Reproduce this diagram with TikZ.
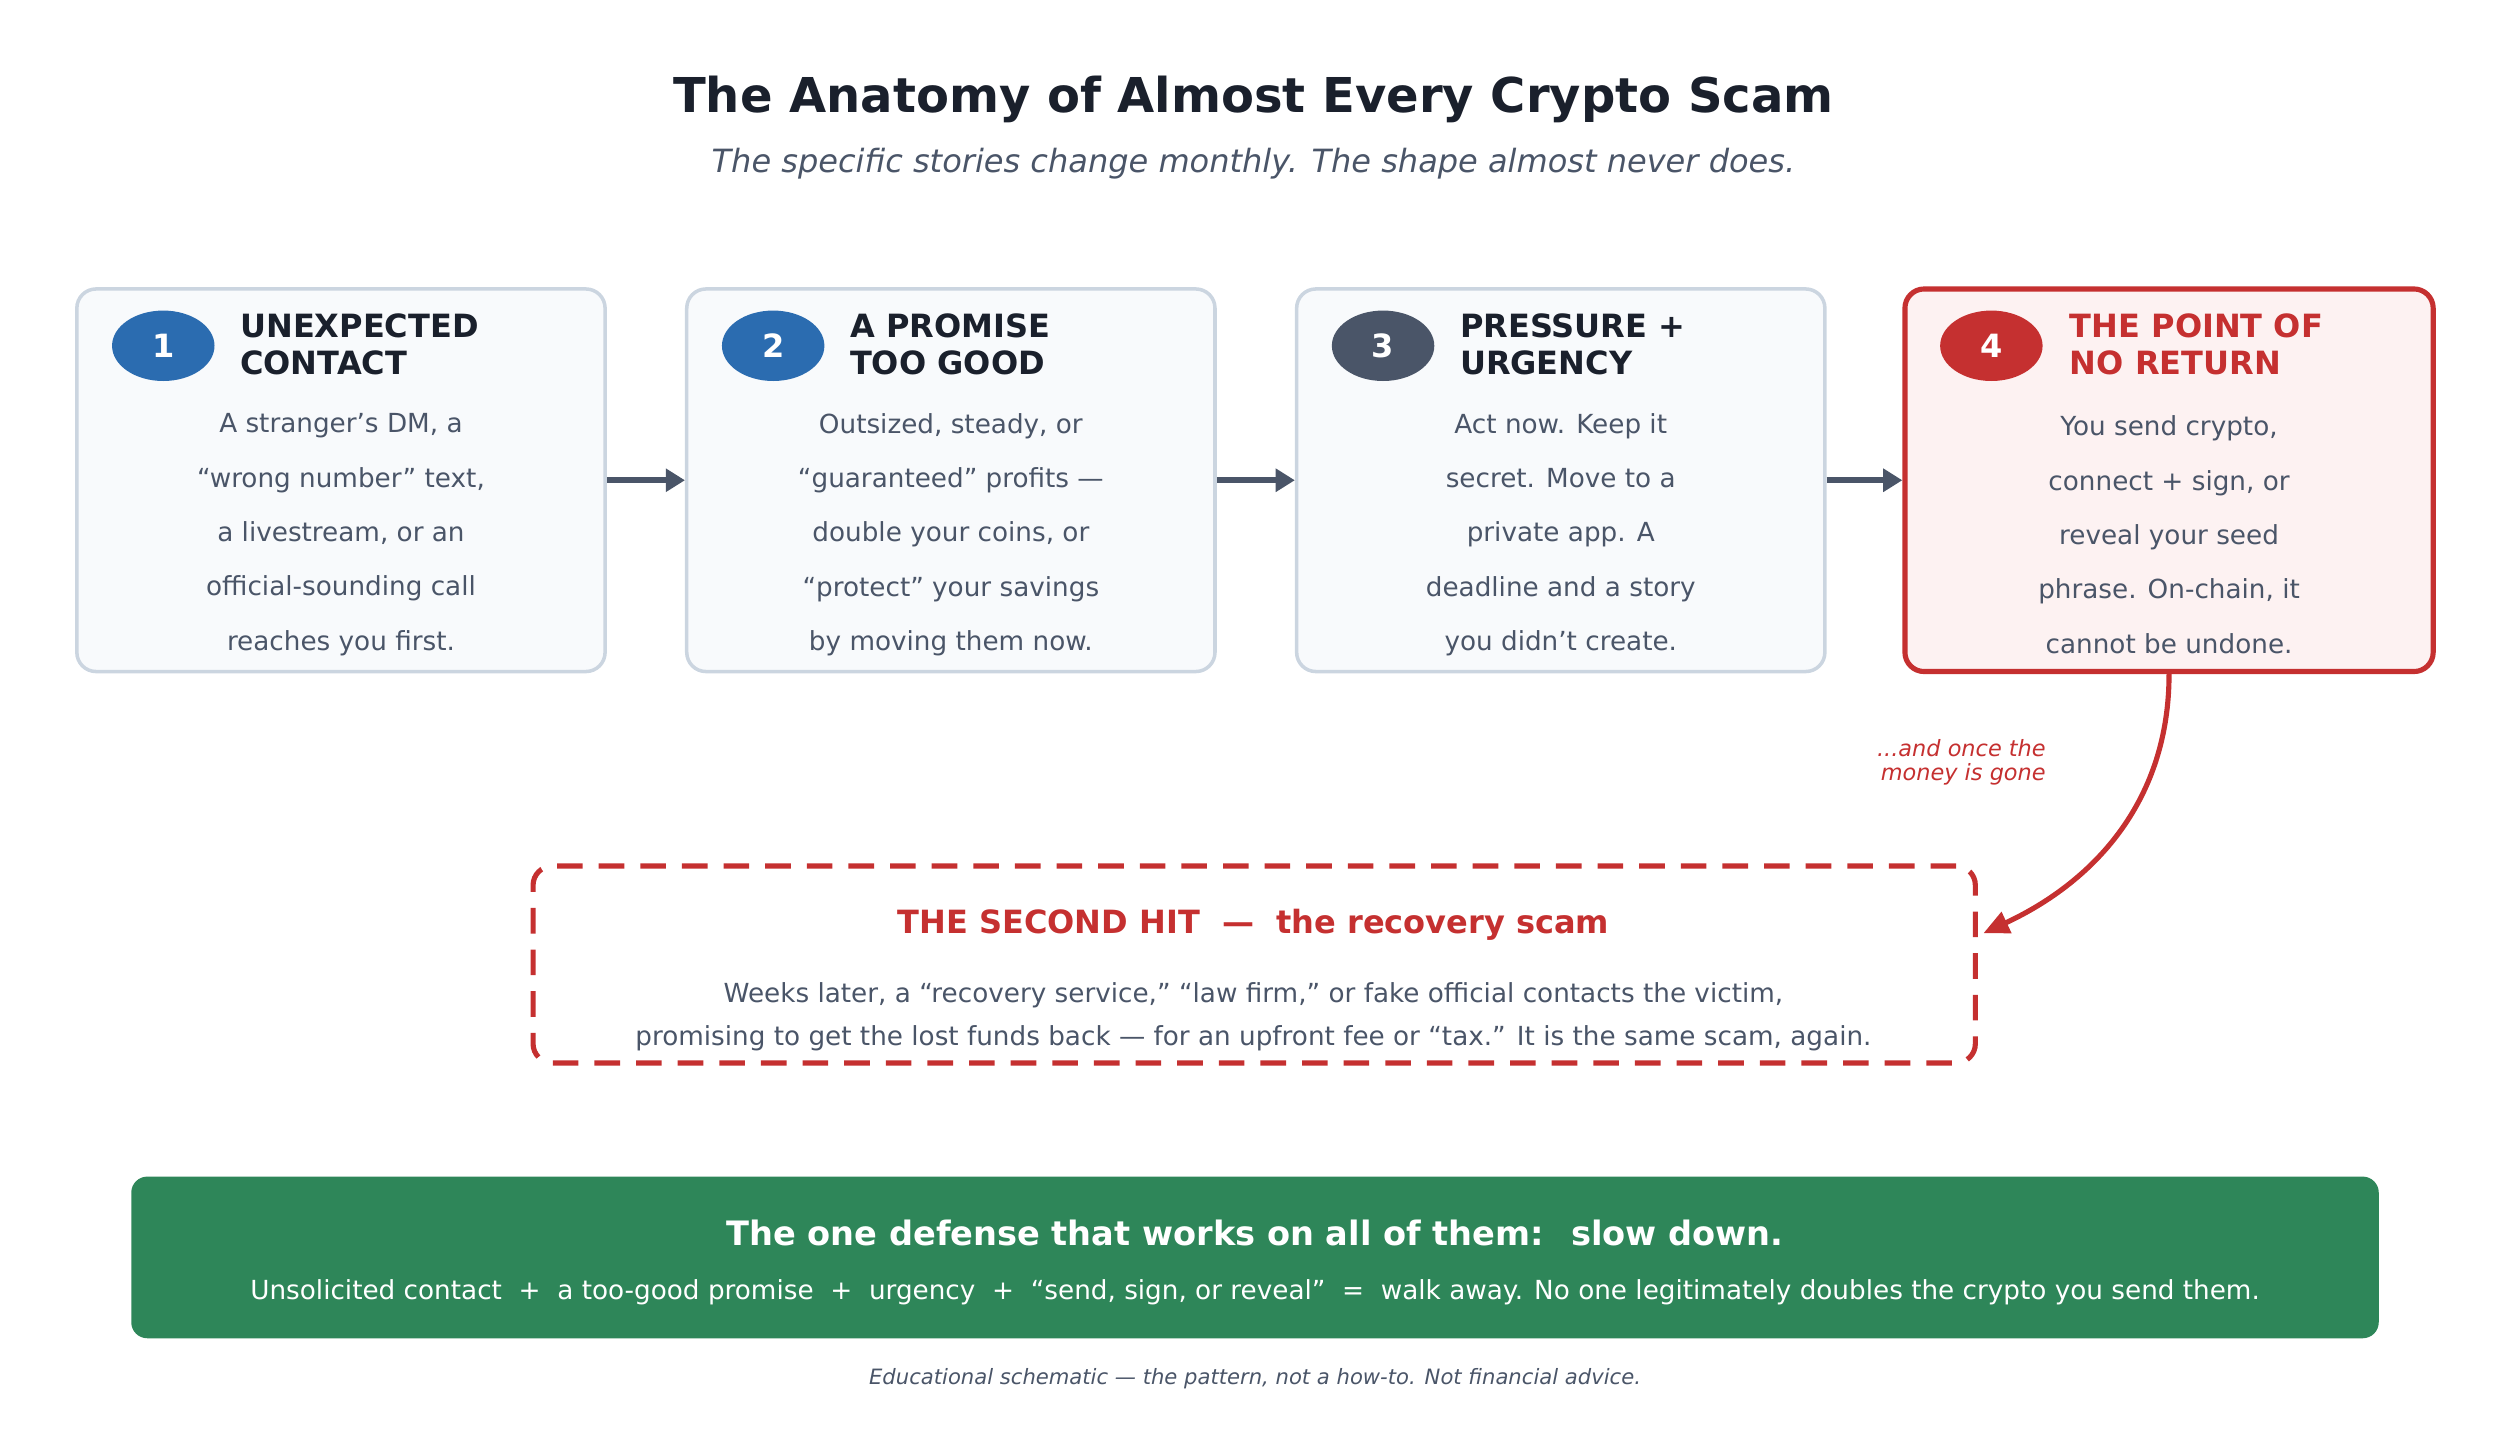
\documentclass[tikz,border=0pt]{standalone}
\usepackage{fontspec}
\setmainfont{DejaVu Sans}
\usetikzlibrary{arrows.meta,positioning,shapes.geometric}
\definecolor{inkdark}{HTML}{1A202C}
\definecolor{inkgray}{HTML}{4A5568}
\definecolor{stepblue}{HTML}{2B6CB0}
\definecolor{stepred}{HTML}{C53030}
\definecolor{boxfill}{HTML}{F8FAFC}
\definecolor{boxline}{HTML}{CBD5E0}
\definecolor{redfill}{HTML}{FDF2F2}
\definecolor{safegreen}{HTML}{2E8659}
\tikzset{
  stepbox/.style={draw=boxline,line width=1.1pt,fill=boxfill,rounded corners=6pt,minimum width=165pt,minimum height=119.5pt,inner sep=0pt},
  badge/.style={ellipse,fill=#1,minimum width=32pt,minimum height=22pt,inner sep=0pt,text=white,font=\fontsize{10}{12}\selectfont\bfseries},
  heading/.style={anchor=west,align=left,font=\fontsize{10}{11.5}\selectfont\bfseries,text=inkdark},
  body/.style={align=center,text=inkgray,font=\fontsize{8.2}{17}\selectfont},
  flow/.style={-{Triangle[length=6pt,width=7pt]},line width=2pt,draw=inkgray},
}
\begin{document}
\begin{tikzpicture}[x=0.5pt,y=-0.5pt]
  \useasboundingbox (0,0) rectangle (1563,902);
  \node[font=\fontsize{15}{18}\selectfont\bfseries,text=inkdark] (title) at (783,62) {The Anatomy of Almost Every Crypto Scam};
  \node[font=\fontsize{10}{12}\selectfont\itshape,text=inkgray] (subtitle) at (783,102) {The specific stories change monthly. The shape almost never does.};
  % the four steps
  \node[stepbox] (s1) at (213,300) {};
  \node[stepbox] (s2) at (594,300) {};
  \node[stepbox] (s3) at (975,300) {};
  \node[stepbox,draw=stepred,line width=1.6pt,fill=redfill] (s4) at (1355,300) {};
  \node[badge=stepblue] (b1) at (102,216) {1};
  \node[badge=stepblue] (b2) at (483,216) {2};
  \node[badge=inkgray] (b3) at (864,216) {3};
  \node[badge=stepred] (b4) at (1244,216) {4};
  \node[heading] (h1) at (143,215) {UNEXPECTED\\CONTACT};
  \node[heading] (h2) at (524,215) {A PROMISE\\TOO GOOD};
  \node[heading] (h3) at (905,215) {PRESSURE +\\URGENCY};
  \node[heading,text=stepred] (h4) at (1286,215) {THE POINT OF\\NO RETURN};
  \node[body] (t1) at (213,334) {A stranger's DM, a\\“wrong number” text,\\a livestream, or an\\official-sounding call\\reaches you first.};
  \node[body] (t2) at (594,334) {Outsized, steady, or\\“guaranteed” profits —\\double your coins, or\\“protect” your savings\\by moving them now.};
  \node[body] (t3) at (975,334) {Act now. Keep it\\secret. Move to a\\private app. A\\deadline and a story\\you didn’t create.};
  \node[body] (t4) at (1355,334) {You send crypto,\\connect + sign, or\\reveal your seed\\phrase. On-chain, it\\cannot be undone.};
  \draw[flow] (s1) -- (s2);
  \draw[flow] (s2) -- (s3);
  \draw[flow] (s3) -- (s4);
  % the second hit
  \node[draw=stepred,dashed,dash pattern=on 8pt off 5pt,line width=1.6pt,rounded corners=6pt,minimum width=450.5pt,minimum height=61.5pt] (hit) at (783.5,602.5) {};
  \node[font=\fontsize{10}{12}\selectfont\bfseries,text=stepred] (hittitle) at (783,578) {THE SECOND HIT \ — \ the recovery scam};
  \node[body,font=\fontsize{8.2}{13.5}\selectfont] (hittext) at (783,635) {Weeks later, a “recovery service,” “law firm,” or fake official contacts the victim,\\promising to get the lost funds back — for an upfront fee or “tax.” It is the same scam, again.};
  \coordinate (hitin) at (1239,583);
  \draw[-{Triangle[length=8pt,width=7pt]},line width=1.6pt,draw=stepred] (s4.south) to[out=-90,in=25] (hitin);
  \node[align=right,text=stepred,font=\fontsize{7}{7.5}\selectfont\itshape,anchor=east] (gone) at (1285,476) {...and once the\\money is gone};
  % the defense
  \node[fill=safegreen,rounded corners=5pt,minimum width=702pt,minimum height=50.5pt] (defense) at (784,785.5) {};
  \node[text=white,font=\fontsize{10.5}{12}\selectfont\bfseries] (deftitle) at (784,770) {The one defense that works on all of them: \ slow down.};
  \node[text=white,font=\fontsize{8.2}{10}\selectfont] (deftext) at (784,807) {Unsolicited contact \ + \ a too-good promise \ + \ urgency \ + \ “send, sign, or reveal” \ = \ walk away. No one legitimately doubles the crypto you send them.};
  \node[text=inkgray,font=\fontsize{6.6}{8}\selectfont\itshape] (footer) at (784,861) {Educational schematic — the pattern, not a how-to. Not financial advice.};
\end{tikzpicture}
\end{document}
